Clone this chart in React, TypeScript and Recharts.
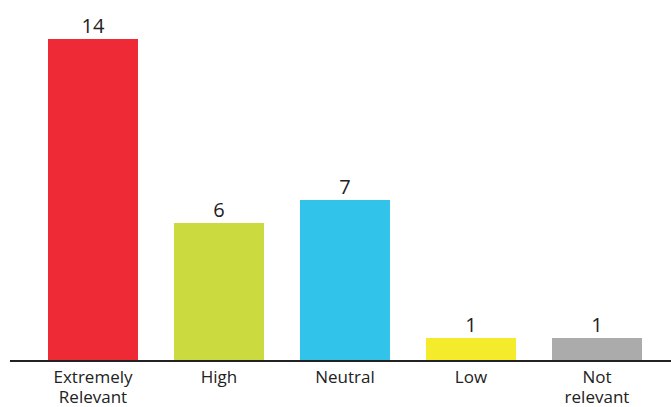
import { BarChart, Bar, XAxis, YAxis, Cell, LabelList } from "recharts";

const categories = ["Extremely Relevant", "High", "Neutral", "Low", "Not relevant"];
const counts = [14, 6, 7, 1, 1];
const colors = ["#EE2A36", "#CBDB3F", "#31C3EA", "#F4EB2A", "#ABABAB"];

const data = categories.map((name, i) => ({ name, value: counts[i] }));

const FONT = "'Open Sans', sans-serif";

function Tick({ x, y, payload }: { x?: number; y?: number; payload?: { value: string } }) {
  const raw = payload?.value ?? "";
  const lines =
    raw === "Extremely Relevant"
      ? ["Extremely", "Relevant"]
      : raw === "Not relevant"
      ? ["Not", "relevant"]
      : [raw];
  return (
    <text x={x} y={(y ?? 0) + 14} textAnchor="middle" fill="#222" fontSize={17} fontFamily={FONT}>
      {lines.map((l, i) => (
        <tspan key={i} x={x} dy={i === 0 ? 0 : 20}>
          {l}
        </tspan>
      ))}
    </text>
  );
}

export default function App() {
  return (
    <div style={{ position: "absolute", left: 0, top: 0, width: 671, height: 407, background: "#fff" }}>
      <BarChart
        width={671}
        height={407}
        data={data}
        margin={{ top: 39, right: 0, bottom: 6, left: 10 }}
      >
        <XAxis
          dataKey="name"
          height={40}
          padding={{ left: 20, right: 11 }}
          axisLine={{ stroke: "#222", strokeWidth: 2 }}
          tickLine={false}
          interval={0}
          tick={<Tick />}
        />
        <YAxis hide domain={[0, 14]} />
        <Bar dataKey="value" barSize={90} isAnimationActive={false}>
          {data.map((_, i) => (
            <Cell key={i} fill={colors[i]} />
          ))}
          <LabelList
            dataKey="value"
            position="top"
            offset={6}
            fill="#222"
            fontSize={20}
            fontFamily={FONT}
          />
        </Bar>
      </BarChart>
    </div>
  );
}
